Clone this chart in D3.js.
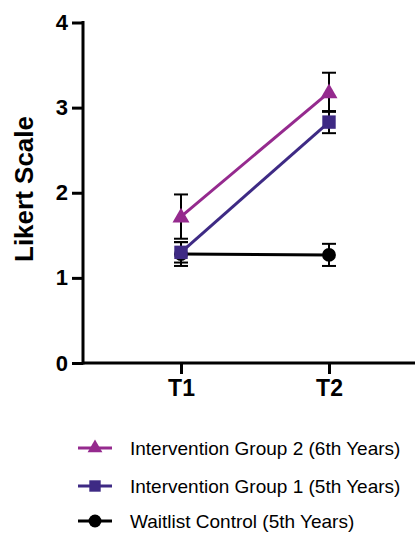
<!DOCTYPE html>
<html><head><meta charset="utf-8">
<script src="https://cdn.jsdelivr.net/npm/d3@7"></script>
<style>body{margin:0;background:#fff;} svg{display:block;}</style>
</head><body>
<svg id="c" width="415" height="533"></svg>
<script>
const categories = ["T1", "T2"];
const seriesNames = ["Intervention Group 2 (6th Years)", "Intervention Group 1 (5th Years)", "Waitlist Control (5th Years)"];
const group2Means = [1.72, 3.18];
const group2Errors = [0.26, 0.23];
const group1Means = [1.30, 2.83];
const group1Errors = [0.12, 0.13];
const controlMeans = [1.28, 1.27];
const controlErrors = [0.14, 0.13];
const yTicks = [0, 1, 2, 3, 4];

const series = [
  {name: seriesNames[0], means: group2Means, errs: group2Errors, color: "#952a8e", shape: "triangle"},
  {name: seriesNames[1], means: group1Means, errs: group1Errors, color: "#3e2a84", shape: "square"},
  {name: seriesNames[2], means: controlMeans, errs: controlErrors, color: "#000000", shape: "circle"}
];

const FONT = "Liberation Sans, Arial, sans-serif";
const svg = d3.select("#c");
const x = d3.scalePoint().domain(categories).range([181, 329]);
const y = d3.scaleLinear().domain([0, 4]).range([363, 22.5]);
const axisLeftX = 83, axisRight = 415;

// axes
const ya = svg.append("g").attr("transform", `translate(${axisLeftX},0)`)
  .call(d3.axisLeft(y).tickValues(yTicks).tickFormat(d3.format("d")).tickSize(11).tickSizeOuter(0).tickPadding(4));
ya.select(".domain").remove();
ya.selectAll(".tick line").attr("stroke", "#000").attr("stroke-width", 3);
ya.selectAll(".tick text").attr("font-family", FONT).attr("font-weight", "bold").attr("font-size", 22).attr("fill", "#000");
svg.append("line").attr("x1", axisLeftX).attr("x2", axisLeftX).attr("y1", y(4) - 1.5).attr("y2", y(0) + 1.5).attr("stroke", "#000").attr("stroke-width", 3);

const xa = svg.append("g").attr("transform", `translate(0,${y(0)})`)
  .call(d3.axisBottom(x).tickSize(11).tickSizeOuter(0).tickPadding(6));
xa.select(".domain").remove();
xa.selectAll(".tick line").attr("stroke", "#000").attr("stroke-width", 3);
xa.selectAll(".tick text").attr("font-family", FONT).attr("font-weight", "bold").attr("font-size", 23).attr("fill", "#000");
svg.append("line").attr("x1", axisLeftX).attr("x2", axisRight).attr("y1", y(0)).attr("y2", y(0)).attr("stroke", "#000").attr("stroke-width", 3);

svg.append("text").attr("transform", `translate(33,189) rotate(-90)`).attr("text-anchor", "middle")
  .attr("font-family", FONT).attr("font-weight", "bold").attr("font-size", 26).text("Likert Scale");

const sym = {
  triangle: d3.symbol().type(d3.symbolTriangle).size(125),
  square: d3.symbol().type(d3.symbolSquare).size(180),
  circle: d3.symbol().type(d3.symbolCircle).size(150)
};

const drawOrder = [2, 1, 0];
drawOrder.forEach(i => {
  const s = series[i];
  const pts = categories.map((c, k) => ({x: x(c), m: s.means[k], e: s.errs[k]}));
  svg.append("path").datum(pts).attr("fill", "none").attr("stroke", s.color).attr("stroke-width", 3)
    .attr("d", d3.line().x(d => d.x).y(d => y(d.m)));
});
drawOrder.forEach(i => {
  const s = series[i];
  const pts = categories.map((c, k) => ({x: x(c), m: s.means[k], e: s.errs[k]}));
  const g = svg.append("g");
  pts.forEach(p => {
    g.append("line").attr("x1", p.x).attr("x2", p.x).attr("y1", y(p.m + p.e)).attr("y2", y(p.m - p.e)).attr("stroke", "#000").attr("stroke-width", 2);
    [p.m + p.e, p.m - p.e].forEach(v => g.append("line").attr("x1", p.x - 7).attr("x2", p.x + 7).attr("y1", y(v)).attr("y2", y(v)).attr("stroke", "#000").attr("stroke-width", 2));
  });
  g.selectAll("path.m").data(pts).join("path").attr("class", "m")
    .attr("transform", d => `translate(${d.x},${y(d.m) + (s.shape === "triangle" ? 1 : 0)})`)
    .attr("d", sym[s.shape]()).attr("fill", s.color);
});

// legend
const legendY = [448, 486, 521];
const legSym = {
  triangle: d3.symbol().type(d3.symbolTriangle).size(95),
  square: d3.symbol().type(d3.symbolSquare).size(130),
  circle: d3.symbol().type(d3.symbolCircle).size(130)
};
const lg = svg.append("g");
series.forEach((s, i) => {
  const gy = legendY[i];
  lg.append("line").attr("x1", 78).attr("x2", 112).attr("y1", gy).attr("y2", gy).attr("stroke", s.color).attr("stroke-width", 3);
  lg.append("path").attr("transform", `translate(95,${gy})`).attr("d", legSym[s.shape]()).attr("fill", s.color);
  lg.append("text").attr("x", 130).attr("y", gy).attr("dy", "0.35em")
    .attr("font-family", FONT).attr("font-size", 19).attr("fill", "#000").text(s.name);
});
</script>
</body></html>
